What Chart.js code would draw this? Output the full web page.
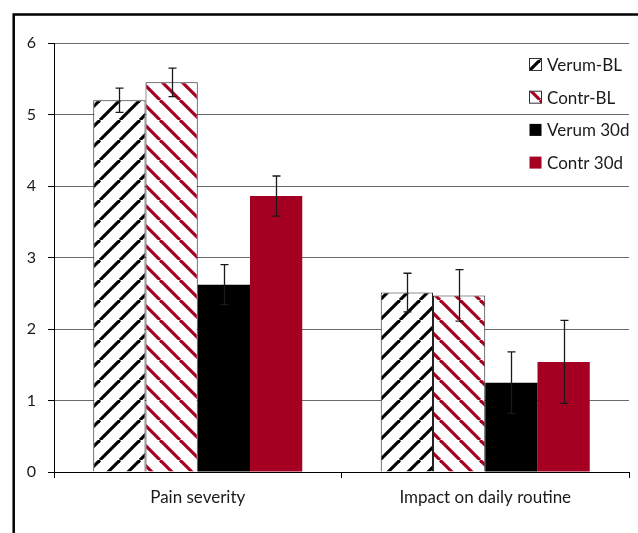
<!DOCTYPE html>
<html>
<head>
<meta charset="utf-8">
<script src="https://cdn.jsdelivr.net/npm/chart.js@4/dist/chart.umd.min.js"></script>
<style>
  body { margin: 0; background: #fff; }
  canvas { display: block; }
</style>
</head>
<body>
<canvas id="grafica" width="638" height="533"></canvas>
<script>
// datos
const categories = ['Pain severity', 'Impact on daily routine']
const seriesNames = ['Verum-BL', 'Contr-BL', 'Verum 30d', 'Contr 30d']
const verumBL = [5.20, 2.51]
const contrBL = [5.45, 2.47]
const verum30 = [2.62, 1.25]
const contr30 = [3.86, 1.54]
// semiamplitud de las barras de error
const errVerumBL = [0.17, 0.27]
const errContrBL = [0.20, 0.36]
const errVerum30 = [0.28, 0.43]
const errContr30 = [0.28, 0.58]
const yTicks = [0, 1, 2, 3, 4, 5, 6]

const ROJO = '#a50021'
const FUENTE = 'Lato, "Open Sans", sans-serif'

// rayado diagonal para las barras de linea base
function rayado(color, subida) {
    const s = 20
    const c = document.createElement('canvas')
    c.width = s; c.height = s
    const g = c.getContext('2d')
    g.fillStyle = '#fff'
    g.fillRect(0, 0, s, s)
    g.strokeStyle = color
    g.lineWidth = 3.2
    for (let k = -s; k <= s; k += s) {
        g.beginPath()
        if (subida) { g.moveTo(k, s); g.lineTo(k + s, 0) }
        else { g.moveTo(k, 0); g.lineTo(k + s, s) }
        g.stroke()
    }
    return document.getElementById('grafica').getContext('2d').createPattern(c, 'repeat')
}

const patVerum = rayado('#000', true)
const patContr = rayado(ROJO, false)

// barras de error
const errorBars = {
    id: 'errorBars',
    afterDatasetsDraw(chart) {
        const ctx = chart.ctx
        const y = chart.scales.y
        ctx.save()
        ctx.strokeStyle = '#1a1a1a'
        ctx.lineWidth = 1.3
        chart.data.datasets.forEach((ds, di) => {
            chart.getDatasetMeta(di).data.forEach((bar, i) => {
                const v = ds.data[i], e = ds.errors[i]
                const yt = y.getPixelForValue(v + e)
                const yb = y.getPixelForValue(v - e)
                const x = Math.round(bar.x) + 0.5
                ctx.beginPath()
                ctx.moveTo(x, yt); ctx.lineTo(x, yb)
                ctx.moveTo(x - 4, yt); ctx.lineTo(x + 4, yt)
                ctx.moveTo(x - 4, yb); ctx.lineTo(x + 4, yb)
                ctx.stroke()
            })
        })
        ctx.restore()
    }
}

// leyenda dentro del area y marco exterior
const leyendaMarco = {
    id: 'leyendaMarco',
    afterDraw(chart) {
        const ctx = chart.ctx
        ctx.save()
        chart.data.datasets.forEach((ds, i) => {
            const cy = 64.5 + i * 32.7
            const x0 = 529.5, lado = 12
            ctx.fillStyle = ds.backgroundColor
            ctx.fillRect(x0, cy - lado / 2, lado, lado)
            if (ds.borderWidth) {
                ctx.strokeStyle = '#333'
                ctx.lineWidth = 1
                ctx.strokeRect(x0, cy - lado / 2, lado, lado)
            }
            ctx.fillStyle = '#1a1a1a'
            ctx.font = '17px ' + FUENTE
            ctx.textBaseline = 'middle'
            ctx.textAlign = 'left'
            ctx.fillText(ds.label, 547, cy + 1)
        })
        ctx.strokeStyle = '#000'
        ctx.lineWidth = 2.5
        ctx.strokeRect(13.7, 14.5, 700, 600)
        ctx.restore()
    }
}

const comunes = { categoryPercentage: 0.727, barPercentage: 1 }

new Chart(document.getElementById('grafica'), {
    type: 'bar',
    data: {
        labels: categories,
        datasets: [
            { ...comunes, label: seriesNames[0], data: verumBL, errors: errVerumBL, backgroundColor: patVerum, borderColor: '#222', borderWidth: 1 },
            { ...comunes, label: seriesNames[1], data: contrBL, errors: errContrBL, backgroundColor: patContr, borderColor: '#222', borderWidth: 1 },
            { ...comunes, label: seriesNames[2], data: verum30, errors: errVerum30, backgroundColor: '#000', borderWidth: 0 },
            { ...comunes, label: seriesNames[3], data: contr30, errors: errContr30, backgroundColor: ROJO, borderWidth: 0 }
        ]
    },
    options: {
        responsive: false,
        animation: false,
        layout: { padding: { top: 43, right: 9, left: 0, bottom: 0 } },
        plugins: {
            legend: { display: false },
            tooltip: { enabled: false }
        },
        scales: {
            x: {
                grid: { drawOnChartArea: false, color: '#000', tickLength: 6, offset: true },
                border: { color: '#000', width: 1 },
                ticks: { color: '#1a1a1a', font: { family: FUENTE, size: 17 }, padding: 9 },
                afterFit(s) { s.height = 61 }
            },
            y: {
                min: 0,
                max: 6,
                afterBuildTicks(s) { s.ticks = yTicks.map(v => ({ value: v })) },
                grid: { color: '#6a6a6a', tickColor: '#000', tickLength: 6 },
                border: { color: '#000', width: 1 },
                ticks: { color: '#1a1a1a', font: { family: FUENTE, size: 16 }, padding: 12 },
                afterFit(s) { s.width = 54 }
            }
        }
    },
    plugins: [errorBars, leyendaMarco]
});
</script>
</body>
</html>
